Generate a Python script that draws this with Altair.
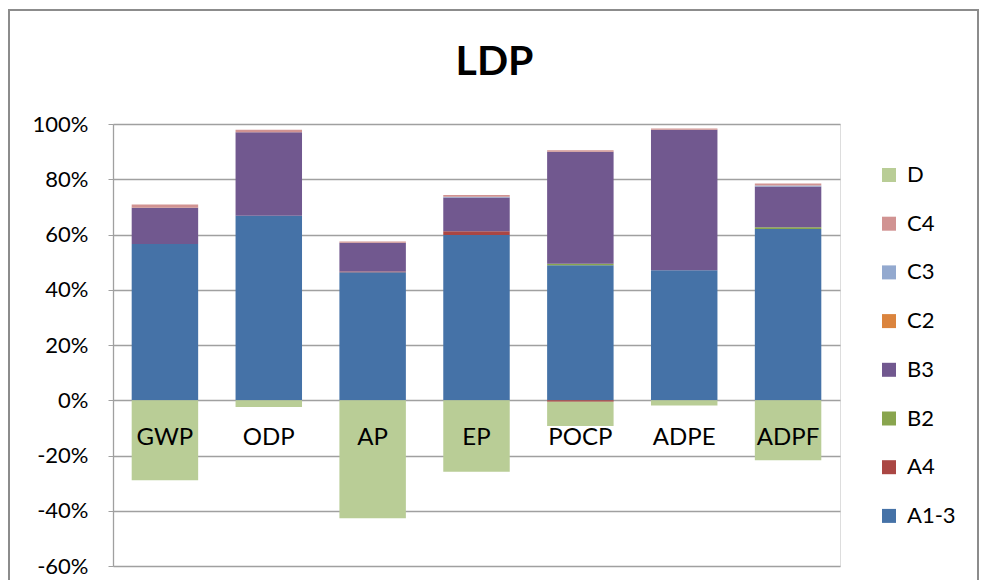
import altair as alt
import pandas as pd

categories = ["GWP", "ODP", "AP", "EP", "POCP", "ADPE", "ADPF"]
series = ["A1-3", "A4", "B2", "B3", "C2", "C3", "C4", "D"]
colors = ["#4572A7", "#AA4643", "#89A54E", "#71588F", "#DB843D", "#93A9CF", "#D19392", "#B9CD96"]

a13 = [56.6, 66.8, 46.3, 59.8, 48.9, 47.1, 62.0]
a4 = [0.0, 0.0, 0.3, 1.4, -0.5, 0.0, 0.0]
b2 = [0.0, 0.0, 0.0, 0.0, 0.5, 0.0, 0.6]
b3 = [13.1, 30.2, 10.4, 12.2, 40.6, 50.8, 14.8]
c2 = [0.0, 0.0, 0.0, 0.0, 0.0, 0.0, 0.0]
c3 = [0.0, 0.0, 0.0, 0.3, 0.0, 0.0, 0.3]
c4 = [1.2, 0.9, 0.5, 0.6, 0.5, 0.5, 0.8]
d = [-29.0, -2.4, -42.7, -25.9, -8.8, -1.9, -21.7]

y_ticks = [-0.6, -0.4, -0.2, 0.0, 0.2, 0.4, 0.6, 0.8, 1.0]

values = [a13, a4, b2, b3, c2, c3, c4, d]
rows = []
for si, (s, vals) in enumerate(zip(series, values)):
    for c, v in zip(categories, vals):
        rows.append({"cat": c, "series": s, "order": si, "value": v / 100.0})
df = pd.DataFrame(rows)

FONT = "Lato"

legend_domain = list(reversed(series))
legend_range = list(reversed(colors))

bars = alt.Chart(df).mark_bar().encode(
    x=alt.X("cat:N", sort=categories, title=None,
            scale=alt.Scale(paddingInner=0.36, paddingOuter=0.18),
            axis=alt.Axis(orient="bottom", offset=-166, domain=False, ticks=False,
                          tickSize=0, labelAngle=0, labelPadding=37,
                          labelBaseline="middle", labelFontSize=24,
                          labelFont=FONT, labelColor="#000000", zindex=2)),
    y=alt.Y("value:Q", stack="zero", title=None,
            scale=alt.Scale(domain=[-0.6, 1.0], nice=False, zero=False),
            axis=alt.Axis(values=y_ticks, labelExpr="round(datum.value*100) + '%'",
                          grid=True, gridColor="#A0A0A0", gridWidth=1.3,
                          domain=True, domainColor="#A0A0A0", domainWidth=1.3,
                          ticks=True, tickSize=5, tickColor="#A0A0A0",
                          labelFontSize=22, labelFont=FONT, labelColor="#000000",
                          labelPadding=20)),
    color=alt.Color("series:N", scale=alt.Scale(domain=legend_domain, range=legend_range),
                    legend=alt.Legend(title=None, orient="none", legendX=765, legendY=40,
                                      symbolType="square", symbolSize=196,
                                      symbolStrokeWidth=0, labelFontSize=22,
                                      labelFont=FONT, labelColor="#000000",
                                      labelOffset=7, rowPadding=26.7, padding=0)),
    order=alt.Order("order:Q", sort="ascending"),
)

border = alt.Chart(pd.DataFrame({"k": [0]})).mark_rect(
    fill=None, stroke="#8C8C8C", strokeWidth=2
).encode(
    x=alt.value(-104), x2=alt.value(865), y=alt.value(-114), y2=alt.value(480)
)

chart = alt.layer(bars, border).properties(
    width=727, height=442,
    autosize=alt.AutoSizeParams(type="none"),
    padding={"left": 105, "top": 116, "right": 140, "bottom": 14},
    title=alt.TitleParams("LDP", fontSize=41, font=FONT, fontWeight="bold",
                          anchor="middle", frame="bounds", dx=1, offset=-107,
                          baseline="alphabetic", color="#000000"),
).configure_view(stroke=None).configure(background="#FFFFFF")

chart.save("out.html", embed_options={"renderer": "svg", "actions": False})
